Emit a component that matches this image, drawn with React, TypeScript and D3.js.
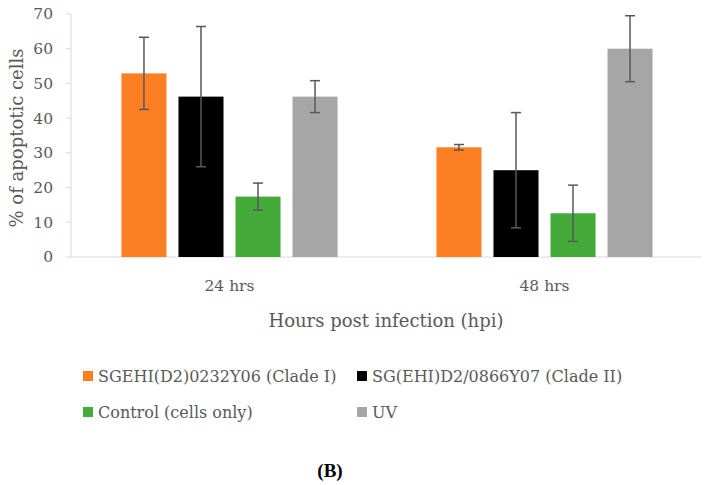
import React from "react";
import * as d3 from "d3";

const categories = ["24 hrs", "48 hrs"];
const seriesNames = [
  "SGEHI(D2)0232Y06 (Clade I)",
  "SG(EHI)D2/0866Y07 (Clade II)",
  "Control (cells only)",
  "UV",
];
const seriesColors = ["#FD7F23", "#000000", "#44AA3A", "#A6A6A6"];
// values per series, one per category
const cladeI = [52.9, 31.6];
const cladeII = [46.2, 25.0];
const control = [17.4, 12.6];
const uv = [46.2, 60.0];
const cladeIErr = [10.4, 0.8];
const cladeIIErr = [20.2, 16.6];
const controlErr = [3.9, 8.1];
const uvErr = [4.6, 9.5];
const yTicks = [0, 10, 20, 30, 40, 50, 60, 70];

const seriesValues = [cladeI, cladeII, control, uv];
const seriesErrors = [cladeIErr, cladeIIErr, controlErr, uvErr];

const FONT = "'DejaVu Serif', serif";
const TEXT = "#595959";

export default function App() {
  const W = 705;
  const H = 485;
  const left = 71;
  const right = 701;
  const top = 14;
  const bottom = 257;

  const y = d3.scaleLinear().domain([0, 70]).range([bottom, top]);
  const x0 = d3
    .scaleBand<string>()
    .domain(categories)
    .range([left + 1, right + 1])
    .paddingInner(0.314)
    .paddingOuter(0.157);
  const x1 = d3
    .scaleBand<string>()
    .domain(seriesNames)
    .range([0, x0.bandwidth()])
    .paddingInner(0.2105)
    .paddingOuter(0);

  const legendPos = [
    { x: 83, y: 376 },
    { x: 357, y: 376 },
    { x: 83, y: 412 },
    { x: 357, y: 412 },
  ];

  return (
    <svg
      width={W}
      height={H}
      style={{ position: "absolute", left: 0, top: 0, background: "#fff" }}
      fontFamily={FONT}
    >
      {/* y axis */}
      <line x1={left} x2={left} y1={top} y2={bottom} stroke="#D9D9D9" strokeWidth={1} />
      {yTicks.map((t) => (
        <g key={t}>
          <line x1={left - 5} x2={left} y1={y(t)} y2={y(t)} stroke="#D9D9D9" strokeWidth={1} />
          <text
            x={53}
            y={y(t)}
            dy="0.35em"
            textAnchor="end"
            fontSize={15.5}
            fill={TEXT}
          >
            {t}
          </text>
        </g>
      ))}
      {/* x axis */}
      <line x1={left} x2={right} y1={bottom} y2={bottom} stroke="#D9D9D9" strokeWidth={1} />

      {/* bars */}
      {categories.map((c, ci) => (
        <g key={c} transform={`translate(${x0(c)},0)`}>
          {seriesNames.map((s, si) => {
            const v = seriesValues[si][ci];
            const e = seriesErrors[si][ci];
            const bx = x1(s)!;
            const cx = bx + x1.bandwidth() / 2;
            return (
              <g key={s}>
                <rect
                  x={bx}
                  y={y(v)}
                  width={x1.bandwidth()}
                  height={y(0) - y(v)}
                  fill={seriesColors[si]}
                />
                <line x1={cx} x2={cx} y1={y(v + e)} y2={y(v - e)} stroke={TEXT} strokeWidth={1.5} />
                <line x1={cx - 5} x2={cx + 5} y1={y(v + e)} y2={y(v + e)} stroke={TEXT} strokeWidth={1.5} />
                <line x1={cx - 5} x2={cx + 5} y1={y(v - e)} y2={y(v - e)} stroke={TEXT} strokeWidth={1.5} />
              </g>
            );
          })}
          <text
            x={x0.bandwidth() / 2}
            y={291}
            textAnchor="middle"
            fontSize={15.5}
            fill={TEXT}
          >
            {c}
          </text>
        </g>
      ))}

      {/* axis titles */}
      <text
        x={386}
        y={321}
        dy="0.35em"
        textAnchor="middle"
        fontSize={18}
        fill={TEXT}
      >
        Hours post infection (hpi)
      </text>
      <text
        transform={`translate(17,${138}) rotate(-90)`}
        dy="0.35em"
        textAnchor="middle"
        fontSize={18}
        fill={TEXT}
      >
        % of apoptotic cells
      </text>

      {/* legend */}
      {seriesNames.map((s, i) => (
        <g key={s}>
          <rect
            x={legendPos[i].x}
            y={legendPos[i].y - 5}
            width={10}
            height={10}
            fill={seriesColors[i]}
          />
          <text
            x={legendPos[i].x + 15}
            y={legendPos[i].y}
            dy="0.35em"
            fontSize={16}
            fill={TEXT}
          >
            {s}
          </text>
        </g>
      ))}

      {/* panel label */}
      <text
        x={330}
        y={470}
        dy="0.35em"
        textAnchor="middle"
        fontSize={19}
        fontWeight="bold"
        fontFamily="'Liberation Serif', serif"
        fill="#000"
      >
        (B)
      </text>
    </svg>
  );
}
